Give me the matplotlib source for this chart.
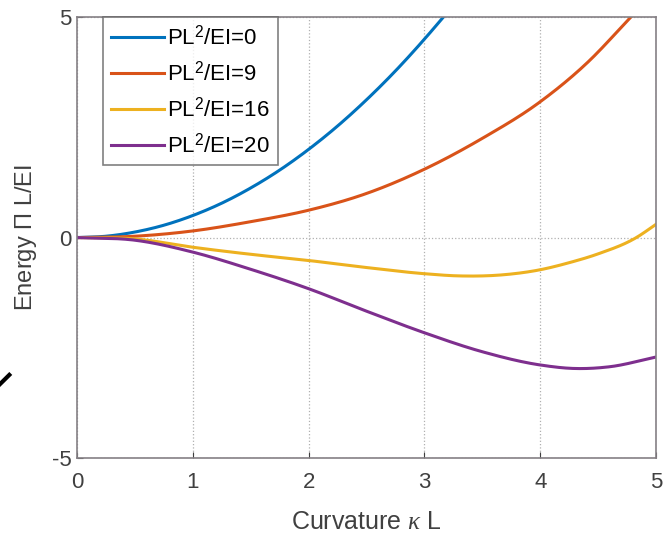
import matplotlib.pyplot as plt
from matplotlib.lines import Line2D
import numpy as np

plt.rcParams['font.family'] = ['Liberation Sans', 'DejaVu Sans']
plt.rcParams['mathtext.fontset'] = 'custom'
plt.rcParams['mathtext.rm'] = 'Liberation Sans'
plt.rcParams['mathtext.it'] = 'Liberation Serif:italic'

# values
k_blue = np.array([0, 0.25, 0.5, 0.75, 1.0, 1.25, 1.5, 1.75, 2.0, 2.25, 2.5, 2.75, 3.0, 3.18])
e_blue = np.array([0, 0.03, 0.125, 0.28, 0.5, 0.78, 1.125, 1.53, 2.0, 2.53, 3.125, 3.78, 4.5, 5.05])

k_orange = np.array([0, 0.5, 1.0, 1.5, 2.0, 2.5, 3.0, 3.5, 4.0, 4.4, 4.8])
e_orange = np.array([0, 0.03, 0.15, 0.36, 0.62, 1.0, 1.55, 2.25, 3.08, 3.95, 5.05])

k_yellow = np.array([0, 0.5, 1.0, 1.5, 2.0, 2.5, 3.0, 3.3, 3.7, 4.0, 4.25, 4.5, 4.83, 5.0])
e_yellow = np.array([0, -0.03, -0.22, -0.38, -0.52, -0.68, -0.82, -0.87, -0.84, -0.73, -0.57, -0.37, 0.0, 0.3])

k_purple = np.array([0, 0.5, 1.0, 1.5, 2.0, 2.5, 3.0, 3.5, 4.0, 4.3, 4.6, 5.0])
e_purple = np.array([0, -0.06, -0.33, -0.72, -1.16, -1.67, -2.16, -2.59, -2.89, -2.97, -2.93, -2.71])

labels = ['PL$^2$/EI=0', 'PL$^2$/EI=9', 'PL$^2$/EI=16', 'PL$^2$/EI=20']
colors = ['#0072BD', '#D95319', '#EDB120', '#7E2F8E']


def smooth(k, e, n=30):
    # cubic hermite through the read points
    m = np.gradient(e, k)
    xs, ys = [], []
    for i in range(len(k) - 1):
        h = k[i + 1] - k[i]
        t = np.linspace(0, 1, n, endpoint=False)
        h00 = 2 * t**3 - 3 * t**2 + 1
        h10 = t**3 - 2 * t**2 + t
        h01 = -2 * t**3 + 3 * t**2
        h11 = t**3 - t**2
        xs.append(k[i] + t * h)
        ys.append(h00 * e[i] + h10 * h * m[i] + h01 * e[i + 1] + h11 * h * m[i + 1])
    xs.append([k[-1]])
    ys.append([e[-1]])
    return np.concatenate(xs), np.concatenate(ys)


fig = plt.figure(figsize=(6.64, 5.41), dpi=100)
ax = fig.add_axes([0.116, 0.1534, 0.872, 0.815])

for (k, e), lab, c in zip([(k_blue, e_blue), (k_orange, e_orange),
                           (k_yellow, e_yellow), (k_purple, e_purple)],
                          labels, colors):
    kk, ee = smooth(k, e)
    ax.plot(kk, ee, color=c, lw=2.2, label=lab)

ax.set_xlim(0, 5)
ax.set_ylim(-5, 5)
ax.set_xticks([0, 1, 2, 3, 4, 5])
ax.set_yticks([-5, 0, 5])
ax.set_yticklabels(['-5', '0', '5'])
ax.grid(True, linestyle=':', color='#b0b0b0', lw=0.9)
ax.tick_params(direction='in', labelsize=16, colors='#404040', length=4)
ax.tick_params(axis='x', pad=10)
ax.tick_params(axis='y', pad=4)
for s in ax.spines.values():
    s.set_color('#858085')
    s.set_linewidth(1.2)
ax.set_xlabel('Curvature $\\kappa$ L', fontsize=18, color='#404040', labelpad=12)
ax.set_ylabel('Energy $\\Pi$ L/EI', fontsize=17, color='#404040', labelpad=9)

leg = ax.legend(loc='upper left', bbox_to_anchor=(26 / 579, 1.0), borderaxespad=0,
                fontsize=16, frameon=True, fancybox=False, handlelength=2.4,
                handletextpad=0.15, borderpad=0.35, labelspacing=0.52)
leg.get_frame().set_edgecolor('#606060')
leg.get_frame().set_linewidth(1.2)

# stray pen stroke at the left edge of the reference image
fig.add_artist(Line2D([0.0, 0.014], [0.29, 0.307], color='black', lw=3))

fig.savefig('out.png', dpi=100)
